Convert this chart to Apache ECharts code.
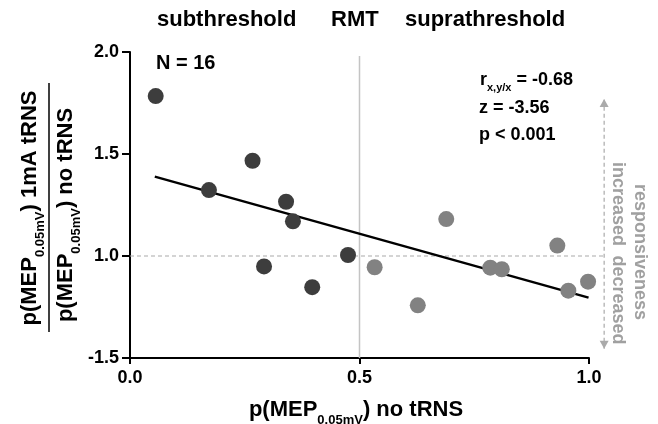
<!DOCTYPE html>
<html>
<head>
<meta charset="utf-8">
<script src="https://cdn.jsdelivr.net/npm/echarts@6/dist/echarts.min.js"></script>
<style>
  html, body { margin: 0; padding: 0; background: #fff; }
  #chart { width: 658px; height: 424px; }
</style>
</head>
<body>
<div id="chart"></div>
<script>
// values
var subPoints = [
  [0.056, 1.784], [0.172, 1.323], [0.267, 1.467], [0.340, 1.266],
  [0.355, 1.170], [0.292, 0.949], [0.397, 0.847], [0.475, 1.005]
];
var supraPoints = [
  [0.533, 0.945], [0.689, 1.181], [0.627, 0.758], [0.785, 0.943],
  [0.810, 0.935], [0.931, 1.051], [0.955, 0.830], [0.998, 0.874]
];
var fitLine = [[0.054, 1.389], [0.999, 0.796]];
var rmtLine = [[0.5, 0.5], [0.5, 1.98]];
var noChangeLine = [[0, 1.0], [1.033, 1.0]];
var arrowLine = [[1.033, 0.545], [1.033, 1.77]];
var yTickLabels = { '0.5': '-1.5', '1': '1.0', '1.5': '1.5', '2': '2.0' };

var font = '"Liberation Sans", Arial, Helvetica, sans-serif';
var chart = echarts.init(document.getElementById('chart'));

// straight segment between two data points, drawn through the axes' scales
function segment(name, pts, style, z, heads) {
  return {
    name: name, type: 'custom', data: pts, clip: false, silent: true, z: z,
    encode: { x: 0, y: 1 },
    renderItem: function (params, api) {
      if (params.dataIndex !== 0) return null;
      var a = api.coord(pts[0]), b = api.coord(pts[1]);
      var children = [{ type: 'line', shape: { x1: a[0], y1: a[1], x2: b[0], y2: b[1] }, style: style }];
      if (heads) {
        children.push({ type: 'polygon', shape: { points: [[b[0] - 4.5, b[1] + 8], [b[0] + 4.5, b[1] + 8], [b[0], b[1]]] }, style: { fill: style.stroke } });
        children.push({ type: 'polygon', shape: { points: [[a[0] - 4.5, a[1] - 8], [a[0] + 4.5, a[1] - 8], [a[0], a[1]]] }, style: { fill: style.stroke } });
      }
      return { type: 'group', children: children };
    }
  };
}

function subText(x, y, rot, main1, main2, size) {
  return {
    type: 'text', x: x, y: y, rotation: rot,
    style: {
      text: '{m|' + main1 + '}{s|0.05mV}{m|' + main2 + '}',
      align: 'center', verticalAlign: 'middle',
      rich: {
        m: { font: 'bold ' + size + 'px ' + font, fill: '#000', verticalAlign: 'bottom' },
        s: { font: 'bold ' + Math.round(size * 0.58) + 'px ' + font, fill: '#000', verticalAlign: 'bottom', padding: [0, 0, -6, 0] }
      }
    }
  };
}

var option = {
  animation: false,
  backgroundColor: '#fff',
  textStyle: { fontFamily: font },
  grid: { left: 130, right: 69, top: 52, bottom: 66, containLabel: false },
  xAxis: {
    type: 'value',
    min: 0, max: 1, interval: 0.5,
    axisLine: { lineStyle: { color: '#000', width: 2 } },
    axisTick: { show: true, length: 6, lineStyle: { color: '#000', width: 2 } },
    axisLabel: {
      color: '#000', fontSize: 18, fontWeight: 'bold', margin: 11,
      formatter: function (v) { return v.toFixed(1); }
    },
    splitLine: { show: false }
  },
  yAxis: {
    type: 'value',
    min: 0.5, max: 2.0, interval: 0.5,
    axisLine: { show: true, lineStyle: { color: '#000', width: 2 } },
    axisTick: { show: true, length: 8, lineStyle: { color: '#000', width: 2 } },
    axisLabel: {
      color: '#000', fontSize: 18, fontWeight: 'bold', margin: 11,
      formatter: function (v) { return yTickLabels[String(v)] || v.toFixed(1); }
    },
    splitLine: { show: false }
  },
  series: [
    segment('RMT', rmtLine, { stroke: '#c4c4c4', lineWidth: 1.5 }, 1),
    segment('unchanged', noChangeLine, { stroke: '#aaa', lineWidth: 1.2, lineDash: [4, 3] }, 1),
    segment('arrow', arrowLine, { stroke: '#aaa', lineWidth: 1.2, lineDash: [4, 3] }, 1, true),
    segment('fit', fitLine, { stroke: '#000', lineWidth: 2.5 }, 3),
    {
      name: 'subthreshold', type: 'scatter', data: subPoints, symbolSize: 16, clip: false,
      itemStyle: { color: '#3d3d3d', opacity: 1 }, z: 4
    },
    {
      name: 'suprathreshold', type: 'scatter', data: supraPoints, symbolSize: 16, clip: false,
      itemStyle: { color: '#828282', opacity: 1 }, z: 4
    }
  ],
  graphic: [
    // top headings
    { type: 'text', left: 157, top: 9, style: { text: 'subthreshold', font: 'bold 22px ' + font, fill: '#000' } },
    { type: 'text', left: 331, top: 9, style: { text: 'RMT', font: 'bold 22px ' + font, fill: '#000' } },
    { type: 'text', left: 405, top: 9, style: { text: 'suprathreshold', font: 'bold 22px ' + font, fill: '#000' } },
    { type: 'text', left: 156, top: 53, style: { text: 'N = 16', font: 'bold 20px ' + font, fill: '#000' } },
    // statistics
    {
      type: 'text', left: 480, top: 71,
      style: {
        text: '{m|r}{s|x,y/x}{m| = -0.68}',
        rich: {
          m: { font: 'bold 18px ' + font, fill: '#000', verticalAlign: 'bottom' },
          s: { font: 'bold 11px ' + font, fill: '#000', verticalAlign: 'bottom', padding: [0, 0, -4, 0] }
        }
      }
    },
    { type: 'text', left: 479, top: 99, style: { text: 'z = -3.56', font: 'bold 18px ' + font, fill: '#000' } },
    { type: 'text', left: 479, top: 126, style: { text: 'p < 0.001', font: 'bold 18px ' + font, fill: '#000' } },
    // responsiveness labels
    {
      type: 'text', x: 640, y: 252, rotation: -Math.PI / 2,
      style: { text: 'responsiveness', font: 'bold 18px ' + font, fill: '#a0a0a0', align: 'center', verticalAlign: 'middle' }
    },
    {
      type: 'text', x: 618, y: 204, rotation: -Math.PI / 2,
      style: { text: 'increased', font: 'bold 18px ' + font, fill: '#a0a0a0', align: 'center', verticalAlign: 'middle' }
    },
    {
      type: 'text', x: 618, y: 300, rotation: -Math.PI / 2,
      style: { text: 'decreased', font: 'bold 18px ' + font, fill: '#a0a0a0', align: 'center', verticalAlign: 'middle' }
    },
    // y axis title (fraction)
    subText(30, 208, Math.PI / 2, 'p(MEP', ') 1mA tRNS', 22),
    { type: 'line', shape: { x1: 49, y1: 83, x2: 49, y2: 332 }, style: { stroke: '#000', lineWidth: 1.5 } },
    subText(66, 215, Math.PI / 2, 'p(MEP', ') no tRNS', 22),
    // x axis title
    subText(356, 410, 0, 'p(MEP', ') no tRNS', 22)
  ]
};

chart.setOption(option);
</script>
</body>
</html>
